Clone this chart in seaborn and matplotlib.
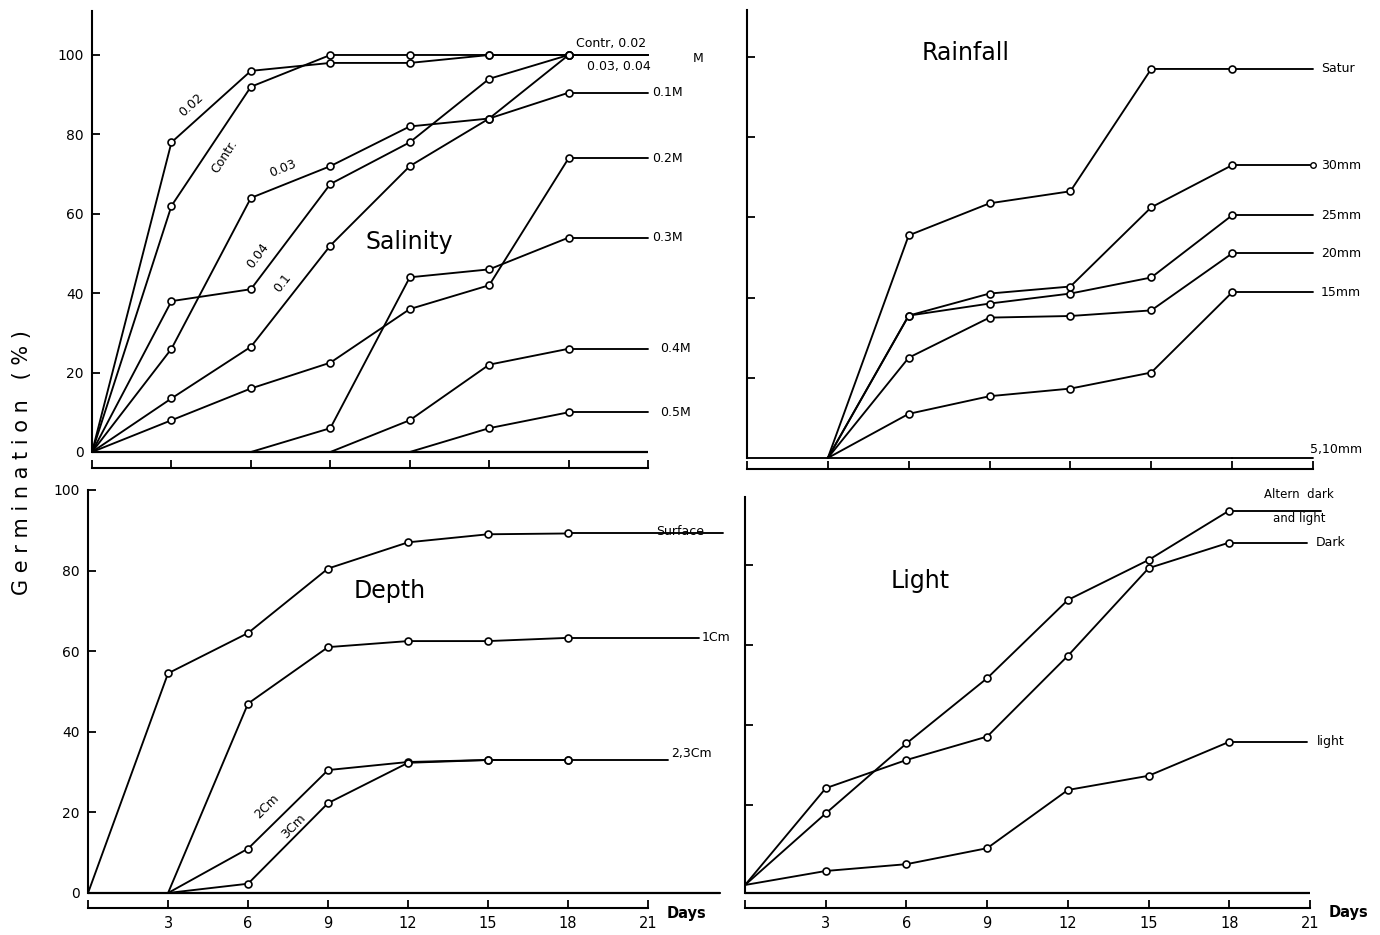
import matplotlib
matplotlib.use("Agg")
import matplotlib.pyplot as plt
import seaborn as sns

# ---- data (germination %, by day) ----
days = [0, 3, 6, 9, 12, 15, 18]
days_late = [3, 6, 9, 12, 15, 18]
tick_days = [0, 3, 6, 9, 12, 15, 18, 21]

# Salinity
sal_contr = [0, 62, 92, 100, 100, 100, 100]
sal_002 = [0, 78, 96, 98, 98, 100, 100]
sal_003 = [0, 26, 64, 72, 82, 84, 100]
sal_004 = [0, 38, 41, 67.5, 78, 94, 100]
sal_01 = [0, 13.5, 26.5, 52, 72, 84, 90.5]
sal_02 = [0, 8, 16, 22.5, 36, 42, 74]
sal_03 = [0, 0, 0, 6, 44, 46, 54]
sal_04 = [0, 0, 0, 0, 8, 22, 26]
sal_05 = [0, 0, 0, 0, 0, 6, 10]

# Rainfall (starts at day 3)
rain_satur = [0, 55.5, 63.5, 66.5, 97, 97]
rain_30 = [0, 35.5, 41, 42.75, 62.5, 73]
rain_25 = [0, 35.5, 38.5, 41, 45, 60.5]
rain_20 = [0, 25, 35, 35.4, 36.8, 51]
rain_15 = [0, 11, 15.4, 17.3, 21.3, 41.3]
rain_510 = [0, 0, 0, 0, 0, 0, 0]

# Depth
dep_surface = [0, 54.5, 64.5, 80.5, 87, 89, 89.2]
dep_1cm = [0, 47, 61, 62.5, 62.5, 63.3]
dep_2cm = [0, 11, 30.5, 32.5, 33, 33]
dep_3cm = [0, 2.3, 22.3, 32.3, 33, 33]

# Light
lig_altern = [0, 17.9, 35.4, 51.7, 71.25, 81.25, 93.6]
lig_dark = [0, 24.2, 31.25, 37.1, 57.3, 79.2, 85.6]
lig_light = [0, 3.5, 5.2, 9.2, 23.75, 27.3, 35.8]

sns.set_style("white")
plt.rcParams['font.family'] = ['DejaVu Sans']
plt.rcParams['text.color'] = 'black'

LW = 1.35
fig = plt.figure(figsize=(13.8, 9.35), dpi=100)


def curve(ax, x, y, end=None, end_mark=False):
    # markers only where germination has started
    marks = [i for i, v in enumerate(y) if v > 0]
    sns.lineplot(x=x, y=y, ax=ax, color='black', linewidth=LW, marker='o',
                 markersize=5, markerfacecolor='white', markeredgecolor='black',
                 markeredgewidth=1.2, markevery=marks, clip_on=False, zorder=3)
    if end is not None:
        ax.plot([x[-1], end], [y[-1], y[-1]], color='black', lw=LW, clip_on=False,
                marker='o' if end_mark else None, markevery=[1], markersize=4,
                markerfacecolor='white', markeredgecolor='black')


def frame(ax, ylim, yticks, base, ytop, ylabels, xlabels):
    ax.set_xlim(0, 21)
    ax.set_ylim(*ylim)
    for s in ['top', 'right']:
        ax.spines[s].set_visible(False)
    ax.spines['left'].set_bounds(base, ytop)
    ax.spines['bottom'].set_bounds(0, 21)
    for s in ['left', 'bottom']:
        ax.spines[s].set_linewidth(1.5)
        ax.spines[s].set_color('black')
    ax.set_xticks(tick_days)
    if xlabels:
        ax.set_xticklabels([''] + [str(d) for d in tick_days[1:]], fontsize=10.5)
    else:
        ax.set_xticklabels([])
    ax.set_yticks(yticks)
    if ylabels:
        ax.set_yticklabels([str(t) for t in yticks], fontsize=10)
    else:
        ax.set_yticklabels([])
    ax.tick_params(axis='both', direction='in', length=6, width=1.3, colors='black',
                   labelcolor='black', pad=6, bottom=True, left=True)
    ax.set_xlabel('')
    ax.set_ylabel('')
    ax.patch.set_alpha(0)


# ---------------- Salinity ----------------
ax = fig.add_axes([0.0667, 0.4996, 0.4029, 0.4883])
frame(ax, (-4, 111), [0, 20, 40, 60, 80, 100], 0, 111, True, False)
ax.plot([0, 21], [0, 0], color='black', lw=1.6)
for ser in [sal_contr, sal_002, sal_003, sal_004, sal_01, sal_02, sal_03, sal_04, sal_05]:
    curve(ax, days, ser, end=21)
ax.text(12, 53, 'Salinity', fontsize=17, ha='center', va='center')
ax.text(3.75, 87.5, '0.02', fontsize=9, rotation=42, ha='center', va='center')
ax.text(5.0, 74.5, 'Contr.', fontsize=9, rotation=57, ha='center', va='center')
ax.text(7.2, 71.5, '0.03', fontsize=9, rotation=22, ha='center', va='center')
ax.text(6.25, 49.5, '0.04', fontsize=9, rotation=53, ha='center', va='center')
ax.text(7.2, 42.5, '0.1', fontsize=9, rotation=52, ha='center', va='center')
ax.text(19.6, 102.8, 'Contr, 0.02', fontsize=9, ha='center', va='center')
ax.text(19.9, 97, '0.03, 0.04', fontsize=9, ha='center', va='center')
ax.text(22.9, 99, 'M', fontsize=9, ha='center', va='center')
ax.text(21.15, 90.5, '0.1M', fontsize=9, va='center')
ax.text(21.15, 74, '0.2M', fontsize=9, va='center')
ax.text(21.15, 54, '0.3M', fontsize=9, va='center')
ax.text(21.45, 26, '0.4M', fontsize=9, va='center')
ax.text(21.45, 10, '0.5M', fontsize=9, va='center')

# ---------------- Rainfall ----------------
ax = fig.add_axes([0.5413, 0.4984, 0.4101, 0.4909])
frame(ax, (-2.75, 111.7), [20, 40, 60, 80, 100], 0, 111.7, False, False)
curve(ax, days, rain_510, end=21)
for ser in [rain_satur, rain_25, rain_20, rain_15]:
    curve(ax, days_late, ser, end=21)
curve(ax, days_late, rain_30, end=21, end_mark=True)
ax.text(8.1, 101, 'Rainfall', fontsize=17, ha='center', va='center')
for val, name in [(rain_satur[-1], 'Satur'), (rain_30[-1], '30mm'), (rain_25[-1], '25mm'),
                  (rain_20[-1], '20mm'), (rain_15[-1], '15mm')]:
    ax.text(21.3, val, name, fontsize=9, va='center')
ax.text(20.9, 2, '5,10mm', fontsize=9, va='center')

# ---------------- Depth ----------------
ax = fig.add_axes([0.0638, 0.0289, 0.4058, 0.4471])
frame(ax, (-3.72, 100), [0, 20, 40, 60, 80, 100], 0, 100, True, True)
ax.plot([0, 23.7], [0, 0], color='black', lw=1.6, clip_on=False)
curve(ax, days, dep_surface, end=23.8)
curve(ax, days_late, dep_1cm, end=22.9)
curve(ax, days_late, dep_2cm, end=21.75)
curve(ax, days_late, dep_3cm)
ax.text(11.3, 75, 'Depth', fontsize=17, ha='center', va='center')
ax.text(6.7, 21.5, '2Cm', fontsize=9, rotation=45, ha='center', va='center')
ax.text(7.7, 16.5, '3Cm', fontsize=9, rotation=46, ha='center', va='center')
ax.text(21.3, 89.6, 'Surface', fontsize=9, va='center')
ax.text(23.0, 63.5, '1Cm', fontsize=9, va='center')
ax.text(21.85, 34.5, '2,3Cm', fontsize=9, va='center')
ax.text(21.7, -5.0, 'Days', fontsize=10.5, fontweight='bold', va='center')

# ---------------- Light ----------------
ax = fig.add_axes([0.5399, 0.0289, 0.4094, 0.4396])
frame(ax, (-5.75, 97), [20, 40, 60, 80], -2, 97, False, True)
ax.plot([0, 21], [-2, -2], color='black', lw=1.6)
curve(ax, days, lig_altern, end=21.4)
curve(ax, days, lig_dark, end=20.9)
curve(ax, days, lig_light, end=20.9)
ax.text(6.5, 76, 'Light', fontsize=17, ha='center', va='center')
ax.text(20.6, 97.5, 'Altern  dark', fontsize=8.5, ha='center', va='center')
ax.text(20.6, 91.5, 'and light', fontsize=8.5, ha='center', va='center')
ax.text(21.2, lig_dark[-1], 'Dark', fontsize=9, va='center')
ax.text(21.25, lig_light[-1], 'light', fontsize=9, va='center')
ax.text(21.7, -6.8, 'Days', fontsize=10.5, fontweight='bold', va='center')

# shared y label
fig.text(0.016, 0.505, 'G e r m i n a t i o n   ( % )', rotation=90,
         fontsize=15, ha='center', va='center')

fig.savefig('out.png', dpi=100)
